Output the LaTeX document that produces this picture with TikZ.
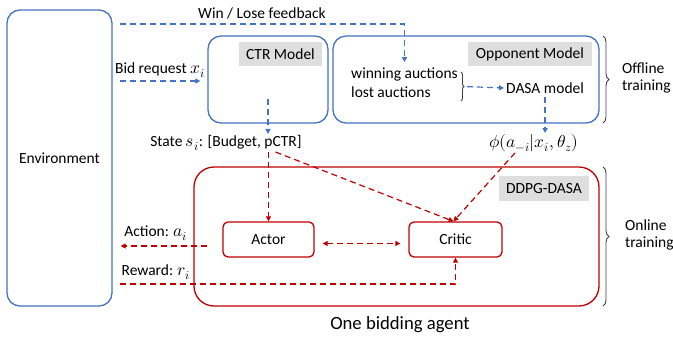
\documentclass[tikz,border=0pt]{standalone}
\usepackage{fontspec}
\usepackage{unicode-math}
\setmainfont{Carlito}
\setmathfont{Latin Modern Math}[Scale=1.12]
\usetikzlibrary{arrows.meta,calc,decorations.pathreplacing}
\definecolor{agentblue}{RGB}{68,114,196}
\definecolor{agentred}{RGB}{192,0,0}
\definecolor{tagfill}{RGB}{222,222,222}
\definecolor{bracegray}{RGB}{64,64,64}
\tikzset{
  bluebox/.style={draw=agentblue, line width=1.3pt, rounded corners=13pt},
  redbox/.style={draw=agentred, line width=1.3pt, rounded corners=#1},
  tag/.style={fill=tagfill, inner sep=0pt},
  lbl/.style={inner sep=1pt, font=\fontsize{15.5}{17}\selectfont},
  bluelink/.style={agentblue, line width=1.2pt, dash pattern=on 6pt off 4pt, -{Triangle[length=5pt,width=5pt]}},
  redlink/.style={agentred, line width=1.2pt, dash pattern=on 6pt off 4pt, -{Triangle[length=5pt,width=5pt]}},
  trainbrace/.style={bracegray, line width=0.9pt, decorate, decoration={brace, amplitude=#1}},
}
\begin{document}
\begin{tikzpicture}[x=1pt, y=-1pt, font=\fontsize{15.5}{17}\selectfont]
  \useasboundingbox (0,0) rectangle (673,341);
  % Draw the outlines.
  \node[bluebox, minimum width=105pt, minimum height=296pt] (env) at (59.5,158) {Environment};
  \node[bluebox, minimum width=120pt, minimum height=87pt] (ctr) at (268,79.5) {};
  \node[bluebox, minimum width=266pt, minimum height=87pt] (opp) at (466,79.5) {};
  \node[redbox=20pt, minimum width=405pt, minimum height=139pt] (ddpg) at (396.5,236.5) {};
  \node[redbox=5pt, minimum width=91pt, minimum height=35pt] (actor) at (268.5,239.5) {Actor};
  \node[redbox=5pt, minimum width=93pt, minimum height=35pt] (critic) at (455.5,239.5) {Critic};
  % Grey title tags.
  \node[tag, minimum width=83pt, minimum height=24pt] (ctrtag) at (280.5,54) {CTR Model};
  \node[tag, minimum width=124pt, minimum height=24pt] (opptag) at (530,54) {Opponent Model};
  \node[tag, minimum width=90pt, minimum height=25pt] (ddpgtag) at (544,188.5) {DDPG-DASA};
  % Inside the opponent model.
  \node[lbl, anchor=west] (win) at (350,74) {winning auctions};
  \node[lbl, anchor=west] (lost) at (350,92) {lost auctions};
  \node[lbl, anchor=west] (dasa) at (505,88) {DASA model};
  \draw[bracegray, line width=0.9pt, decorate, decoration={brace, amplitude=3pt}] (461,72) -- (461,101) coordinate[midway] (auctbrace);
  % Labels.
  \node[lbl] (fblabel) at (262,13) {Win / Lose feedback};
  \node[lbl] (bidlabel) at (160,70) {Bid request $x_i$};
  \node[lbl] (state) at (226,143) {State $s_i$: [Budget, pCTR]};
  \node[lbl] (phi) at (534,143) {$\phi(a_{-i}|x_i,\theta_z)$};
  \node[lbl] (actlabel) at (156,233) {Action: $a_i$};
  \node[lbl] (rwlabel) at (156,272) {Reward: $r_i$};
  \node[font=\fontsize{18.7}{21}\selectfont] (agent) at (400,325) {One bidding agent};
  \node[lbl, anchor=west, align=left] (offline) at (621,78) {Offline\\training};
  \node[lbl, anchor=west, align=left] (online) at (624,235) {Online\\training};
  % Free ends of the links.
  \coordinate (fbstart) at (120,24);
  \coordinate (bidstart) at (120,81);
  \coordinate (ctrout) at (268,99);
  \coordinate (rwstart) at (120,284);
  % Blue links.
  \draw[bluelink] (fbstart) -| ([yshift=4pt]win.north);
  \draw[bluelink, shorten >=7pt] (bidstart) -- (bidstart -| ctr.west);
  \draw[bluelink] (ctrout) -- (ctrout |- state.north);
  \draw[bluelink] ([yshift=-2pt]dasa.south) -- (dasa.south |- phi.north);
  \draw[bluelink, shorten <=4pt, shorten >=1pt] ([xshift=2pt]auctbrace) -- (dasa.west);
  % Red links.
  \draw[redlink] (state.south -| actor.north) -- (actor.north);
  \draw[redlink] ($(state.south -| actor.north)+(7,0)$) -- ([xshift=-2pt]critic.north);
  \draw[redlink] ([xshift=-19pt]phi.south) -- ([xshift=-2pt]critic.north);
  \draw[redlink, {Triangle[length=5pt,width=5pt]}-{Triangle[length=5pt,width=5pt]}, shorten <=8pt, shorten >=8pt] ([yshift=-4pt]actor.east) -- ([yshift=-4pt]critic.west);
  \draw[redlink, shorten <=15pt, shorten >=8pt] ([yshift=-6.5pt]actor.west) -- ([yshift=-6.5pt]actor.west -| env.east);
  \draw[redlink] (rwstart) -| (critic.south);
  % Training braces.
  \draw[trainbrace=6pt] (603,36) -- (603,123);
  \draw[trainbrace=6pt] (603,167) -- (603,306);
\end{tikzpicture}
\end{document}
